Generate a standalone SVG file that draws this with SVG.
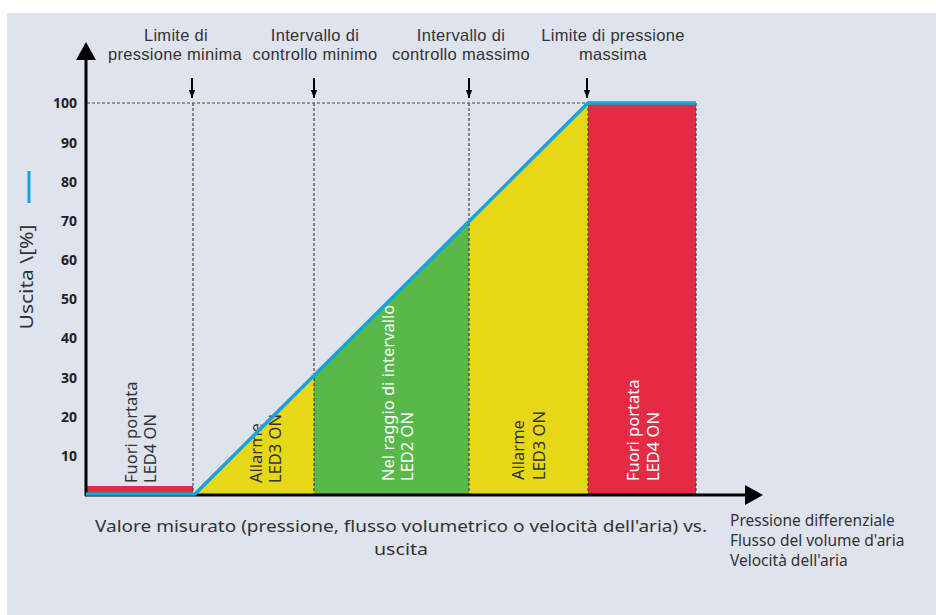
<svg xmlns="http://www.w3.org/2000/svg" width="936" height="615" viewBox="0 0 936 615">
<style>
.lbl{font-family:"Noto Sans","DejaVu Sans",sans-serif;fill:#333;font-size:15.5px}
.top{font-family:"Liberation Sans",Arial,sans-serif;fill:#333;font-size:16.5px;letter-spacing:0.3px;text-anchor:middle}
.tick{font-family:"Noto Sans","DejaVu Sans",sans-serif;font-weight:bold;fill:#222;font-size:14px;text-anchor:end}
.rot{font-family:"Noto Sans","DejaVu Sans",sans-serif;font-size:16.5px}
.dash{stroke:#444;stroke-width:1.2;stroke-dasharray:3 2;fill:none}
.axis{stroke:#000;stroke-width:3;fill:none}
.blue{stroke:#1aa3d5;stroke-width:3.5;fill:none;stroke-linejoin:miter}
.mark{stroke:#000;stroke-width:2}
</style>
<defs>
<marker id="ah" viewBox="0 0 10 10" refX="10" refY="5" markerWidth="4" markerHeight="4" markerUnits="strokeWidth" orient="auto">
<path d="M0,1 L10,5 L0,9 z" fill="#000"/>
</marker>
</defs>
<rect x="0" y="0" width="936" height="615" fill="#ffffff"/>
<rect x="7" y="13" width="929" height="602" fill="#dfe3ee"/>

<g id="zone-red-left">
<rect x="87" y="486" width="106" height="8" fill="#e52b44"/>
<text class="rot" fill="#333" transform="translate(137,483) rotate(-90)">Fuori portata</text>
<text class="rot" fill="#333" transform="translate(156,483) rotate(-90)">LED4 ON</text>
</g>
<g id="zone-yellow-left">
<polygon points="195,495 314,376 314,495" fill="#e6d817"/>
<text class="rot" fill="#333" transform="translate(262,483) rotate(-90)">Allarme</text>
<text class="rot" fill="#333" transform="translate(281,483) rotate(-90)">LED3 ON</text>
</g>
<g id="zone-green">
<polygon points="314,376 469,221 469,495 314,495" fill="#58b94a"/>
<text class="rot" fill="#fff" transform="translate(394,481) rotate(-90)">Nel raggio di intervallo</text>
<text class="rot" fill="#fff" transform="translate(413,481) rotate(-90)">LED2 ON</text>
</g>
<g id="zone-yellow-right">
<polygon points="469,221 588,103 588,495 469,495" fill="#e6d817"/>
<text class="rot" fill="#333" transform="translate(524,480) rotate(-90)">Allarme</text>
<text class="rot" fill="#333" transform="translate(545,480) rotate(-90)">LED3 ON</text>
</g>
<g id="zone-red-right">
<rect x="588" y="103" width="108" height="392" fill="#e52b44"/>
<text class="rot" fill="#fff" transform="translate(639,481) rotate(-90)">Fuori portata</text>
<text class="rot" fill="#fff" transform="translate(659,481) rotate(-90)">LED4 ON</text>
</g>

<g id="connectors">
<line class="dash" x1="87" y1="103" x2="588" y2="103"/>
<line class="dash" x1="193" y1="103" x2="193" y2="494"/>
<line class="dash" x1="314" y1="103" x2="314" y2="494"/>
<line class="dash" x1="469" y1="103" x2="469" y2="494"/>
<line class="dash" x1="588" y1="103" x2="588" y2="494"/>
<line class="dash" x1="696" y1="103" x2="696" y2="494"/>
<line class="axis" x1="86" y1="496" x2="86" y2="58"/>
<polygon points="86,42 76,60 96,60" fill="#000"/>
<line class="axis" x1="85" y1="495" x2="747" y2="495"/>
<polygon points="763,495 745,485 745,505" fill="#000"/>
<polyline class="blue" points="86,494 195,494 588,103 696,103"/>
<line class="mark" x1="192" y1="78" x2="192" y2="98" marker-end="url(#ah)"/>
<line class="mark" x1="314" y1="78" x2="314" y2="98" marker-end="url(#ah)"/>
<line class="mark" x1="469" y1="78" x2="469" y2="98" marker-end="url(#ah)"/>
<line class="mark" x1="587" y1="78" x2="587" y2="98" marker-end="url(#ah)"/>
</g>

<g id="y-axis-labels">
<text class="tick" x="77" y="108">100</text>
<text class="tick" x="77" y="148">90</text>
<text class="tick" x="77" y="187">80</text>
<text class="tick" x="77" y="226">70</text>
<text class="tick" x="77" y="265">60</text>
<text class="tick" x="77" y="304">50</text>
<text class="tick" x="77" y="343">40</text>
<text class="tick" x="77" y="383">30</text>
<text class="tick" x="77" y="422">20</text>
<text class="tick" x="77" y="461">10</text>
<text font-family="Noto Sans, DejaVu Sans, sans-serif" font-size="18" fill="#333" text-anchor="middle" textLength="105" lengthAdjust="spacingAndGlyphs" transform="translate(33,277) rotate(-90)">Uscita \[%]</text>
<line x1="29" y1="171" x2="29" y2="203" stroke="#1aa3d5" stroke-width="3"/>
</g>

<g id="top-labels">
<text class="top" x="176" y="41">Limite di</text>
<text class="top" x="175" y="60">pressione minima</text>
<text class="top" x="315" y="41">Intervallo di</text>
<text class="top" x="315" y="60">controllo minimo</text>
<text class="top" x="461" y="41">Intervallo di</text>
<text class="top" x="461" y="60">controllo massimo</text>
<text class="top" x="613" y="41">Limite di pressione</text>
<text class="top" x="613" y="60">massima</text>
</g>

<g id="bottom-labels">
<text class="lbl" font-size="19" x="95" y="532" textLength="612" lengthAdjust="spacingAndGlyphs">Valore misurato (pressione, flusso volumetrico o velocità dell'aria) vs.</text>
<text class="lbl" font-size="19" x="374" y="555" textLength="54" lengthAdjust="spacingAndGlyphs">uscita</text>
<text class="lbl" font-size="15" x="730" y="526">Pressione differenziale</text>
<text class="lbl" font-size="15" x="730" y="546">Flusso del volume d'aria</text>
<text class="lbl" font-size="15" x="730" y="566">Velocità dell'aria</text>
</g>
</svg>
